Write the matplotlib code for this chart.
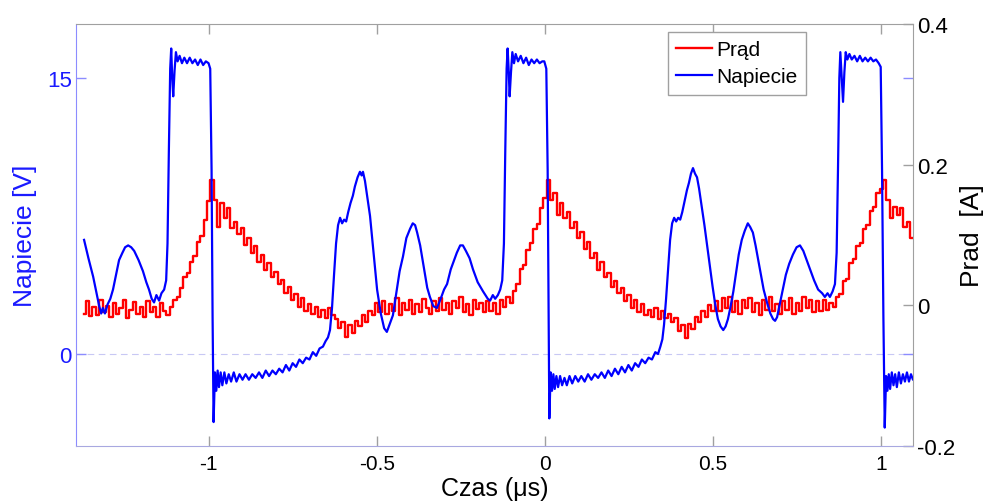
import numpy as np
import matplotlib
matplotlib.use("Agg")
import matplotlib.pyplot as plt

matplotlib.rcParams['font.family'] = ['Liberation Sans', 'DejaVu Sans']
matplotlib.rcParams['axes.unicode_minus'] = False

# Prad (current, A) sampled every 0.01 us starting at -1.37 us
PRAD_T0 = -1.37
PRAD_DT = 0.01
prad_i = [
    -0.012, 0.006, -0.015, -0.002, -0.014, 0.008, -0.010, -0.001, -0.016,
    0.003, -0.013, -0.004, 0.007, -0.018, -0.006, 0.005, -0.012, -0.002, -0.017,
    0.006, -0.010, -0.003, -0.016, 0.004, -0.008, -0.014, -0.002, 0.008, 0.012,
    0.024, 0.040, 0.046, 0.062, 0.070, 0.090, 0.098, 0.122, 0.148, 0.178,
    0.150, 0.112, 0.146, 0.124, 0.138, 0.110, 0.118, 0.102, 0.110, 0.086,
    0.096, 0.074, 0.084, 0.062, 0.072, 0.050, 0.060, 0.040, 0.048, 0.030,
    0.036, 0.018, 0.026, 0.008, 0.016, -0.002, 0.010, -0.008, 0.002, -0.012,
    -0.002, -0.016, -0.006, -0.018, -0.004, -0.014, -0.020, -0.032, -0.024, -0.045,
    -0.028, -0.040, -0.022, -0.030, -0.014, -0.024, -0.008, -0.014, 0.004, -0.010,
    0.006, -0.012, 0.002, -0.008, 0.010, -0.014, 0.004, -0.006, 0.008, -0.012,
    0.002, -0.010, 0.009, -0.004, -0.013, 0.006, -0.008, 0.011, -0.006, 0.003,
    -0.012, 0.006, -0.004, 0.012, -0.010, 0.002, -0.014, 0.008, -0.005, 0.004,
    -0.010, 0.006, -0.008, 0.004, -0.012, 0.008, -0.002, 0.012, 0.004, 0.020,
    0.030, 0.052, 0.058, 0.078, 0.088, 0.108, 0.116, 0.138, 0.152, 0.178,
    0.150, 0.160, 0.128, 0.146, 0.124, 0.132, 0.110, 0.118, 0.096, 0.104,
    0.080, 0.090, 0.068, 0.074, 0.050, 0.062, 0.040, 0.046, 0.026, 0.034,
    0.018, 0.024, 0.006, 0.014, -0.004, 0.008, -0.010, 0.002, -0.014, -0.006,
    -0.016, -0.004, -0.020, -0.008, -0.018, -0.012, -0.024, -0.018, -0.036, -0.028,
    -0.046, -0.026, -0.034, -0.016, -0.024, -0.008, -0.016, 0.000, -0.008, 0.006,
    -0.008, 0.010, -0.004, 0.012, -0.010, 0.006, -0.012, 0.008, -0.004, 0.010,
    -0.010, 0.004, -0.014, 0.008, -0.006, 0.012, -0.008, 0.002, -0.012, 0.006,
    -0.006, 0.010, -0.012, 0.004, -0.008, 0.012, -0.004, 0.008, -0.010, 0.006,
    -0.008, 0.008, -0.006, 0.004, -0.002, 0.012, 0.016, 0.034, 0.038, 0.060,
    0.066, 0.084, 0.088, 0.108, 0.114, 0.134, 0.140, 0.160, 0.166, 0.178,
    0.150, 0.124, 0.140, 0.128, 0.138, 0.112, 0.118, 0.096,
]
prad_t = PRAD_T0 + PRAD_DT * np.arange(len(prad_i))

# Napiecie (voltage, V)
napiecie_t = [
    -1.370, -1.357, -1.343, -1.333, -1.325, -1.319, -1.314, -1.308, -1.300, -1.292,
    -1.284, -1.275, -1.266, -1.256, -1.248, -1.239, -1.230, -1.221, -1.208, -1.195,
    -1.185, -1.177, -1.169, -1.162, -1.155, -1.147, -1.140, -1.132, -1.126, -1.122,
    -1.118, -1.114, -1.111, -1.108, -1.105, -1.101, -1.097, -1.092, -1.086, -1.079,
    -1.072, -1.064, -1.056, -1.048, -1.040, -1.032, -1.024, -1.016, -1.008, -1.000,
    -0.995, -0.991, -0.988, -0.985,
    -0.981, -0.977, -0.973, -0.969, -0.964, -0.959, -0.953, -0.947, -0.940, -0.933,
    -0.925, -0.917, -0.908, -0.899, -0.890, -0.880, -0.870, -0.860, -0.850, -0.840,
    -0.830, -0.820, -0.810, -0.800, -0.790, -0.780, -0.770, -0.760, -0.750, -0.740,
    -0.730, -0.720, -0.710, -0.700, -0.690, -0.680, -0.670, -0.660, -0.652, -0.645,
    -0.639,
    -0.633, -0.627, -0.621, -0.615, -0.609, -0.603, -0.597, -0.591, -0.585, -0.578,
    -0.571, -0.565, -0.557, -0.550, -0.545, -0.541, -0.535, -0.528, -0.520, -0.510,
    -0.499, -0.488, -0.478, -0.470, -0.462, -0.452, -0.442, -0.432, -0.422, -0.412,
    -0.401, -0.393, -0.386, -0.380, -0.371, -0.360, -0.350, -0.342, -0.332, -0.321,
    -0.310, -0.300, -0.291, -0.280, -0.270, -0.262, -0.252, -0.244, -0.235, -0.224,
    -0.214, -0.200, -0.184, -0.170, -0.163, -0.155, -0.148, -0.140, -0.133, -0.127,
    -0.122, -0.118, -0.114, -0.111, -0.108, -0.105, -0.101, -0.097, -0.092, -0.087,
    -0.080, -0.072, -0.064, -0.056, -0.048, -0.040, -0.032, -0.024, -0.016, -0.008,
    -0.002, 0.004, 0.008, 0.011, 0.013,
    0.017, 0.021, 0.025, 0.029, 0.034, 0.039, 0.045, 0.051, 0.058, 0.065,
    0.073, 0.081, 0.090, 0.099, 0.108, 0.118, 0.128, 0.138, 0.148, 0.158,
    0.168, 0.178, 0.188, 0.198, 0.208, 0.218, 0.228, 0.238, 0.248, 0.258,
    0.268, 0.278, 0.288, 0.298, 0.308, 0.318, 0.328, 0.336, 0.343, 0.349,
    0.354, 0.360, 0.366, 0.372, 0.378, 0.384, 0.390, 0.396, 0.402, 0.408,
    0.415, 0.422, 0.428, 0.434, 0.440, 0.446, 0.452, 0.458, 0.466, 0.474,
    0.482, 0.490, 0.498, 0.506, 0.514, 0.522, 0.530, 0.537, 0.544, 0.552,
    0.560, 0.568, 0.576, 0.585, 0.594, 0.603, 0.610, 0.618, 0.626, 0.634,
    0.642, 0.650, 0.660, 0.670, 0.678, 0.684, 0.690, 0.698, 0.707, 0.716,
    0.726, 0.737, 0.748, 0.758, 0.768, 0.778, 0.788, 0.800, 0.812, 0.824,
    0.832, 0.840, 0.847, 0.855, 0.862, 0.867, 0.871, 0.875, 0.878, 0.882,
    0.886, 0.890, 0.894, 0.899, 0.905, 0.912, 0.920, 0.928, 0.936, 0.944,
    0.952, 0.960, 0.968, 0.976, 0.984, 0.992, 0.998, 1.002, 1.006, 1.010,
    1.014, 1.018, 1.022, 1.026, 1.031, 1.036, 1.041, 1.046, 1.052, 1.058,
    1.064, 1.070, 1.076, 1.082, 1.088, 1.094, 1.100,
]
napiecie_v = [
    6.2, 5.2, 4.2, 3.3, 2.6, 2.2, 2.5, 2.2, 2.7, 3.0,
    3.5, 4.3, 5.1, 5.5, 5.8, 5.9, 5.8, 5.6, 5.1, 4.5,
    3.9, 3.5, 3.0, 2.8, 3.2, 2.9, 3.3, 3.5, 4.0, 6.0,
    11.0, 15.5, 16.6, 15.0, 14.0, 15.4, 16.4, 15.9, 16.2, 15.8,
    16.1, 15.8, 16.1, 15.8, 16.0, 15.7, 16.0, 15.7, 15.9, 15.8,
    15.5, 10.0, 2.0, -3.7,
    -1.0, -2.0, -0.9, -1.8, -1.0, -1.7, -1.0, -1.6, -1.1, -1.5,
    -1.0, -1.5, -1.1, -1.4, -1.1, -1.4, -1.1, -1.3, -1.0, -1.3,
    -0.9, -1.2, -0.9, -1.1, -0.8, -1.0, -0.6, -0.9, -0.5, -0.7,
    -0.3, -0.5, -0.2, -0.3, 0.1, -0.1, 0.3, 0.4, 0.7, 0.9,
    1.3,
    2.5, 4.3, 6.0, 7.0, 7.4, 7.1, 7.3, 7.2, 7.7, 8.2,
    8.6, 9.1, 9.6, 9.9, 9.7, 9.9, 9.4, 8.5, 7.5, 5.6,
    3.5, 2.2, 1.4, 1.2, 1.6, 2.1, 3.3, 4.5, 5.3, 6.3,
    6.8, 7.1, 7.0, 6.6, 5.9, 4.7, 3.6, 3.1, 2.6, 2.5,
    3.0, 3.5, 3.8, 4.6, 5.1, 5.5, 5.9, 5.9, 5.6, 5.2,
    4.6, 3.9, 3.4, 3.0, 2.9, 3.2, 3.0, 3.2, 3.5, 4.0,
    6.0, 11.0, 15.5, 16.6, 15.5, 14.0, 15.3, 16.4, 15.8, 16.3,
    15.9, 16.2, 15.8, 16.1, 15.7, 16.0, 15.8, 16.0, 15.8, 15.9,
    15.9, 15.5, 10.0, 2.0, -3.5,
    -1.0, -2.0, -1.1, -1.9, -1.2, -1.8, -1.2, -1.7, -1.3, -1.7,
    -1.2, -1.6, -1.2, -1.5, -1.2, -1.5, -1.1, -1.4, -1.1, -1.3,
    -1.0, -1.3, -0.9, -1.2, -0.8, -1.1, -0.7, -1.0, -0.6, -0.9,
    -0.5, -0.7, -0.3, -0.5, -0.2, -0.3, 0.1, 0.0, 0.4, 0.8,
    1.6, 3.0, 4.6, 6.2, 7.1, 7.4, 7.2, 7.4, 7.3, 7.7,
    8.3, 8.9, 9.3, 9.8, 10.1, 9.8, 9.6, 9.0, 8.0, 7.0,
    5.9, 4.8, 3.7, 2.7, 1.9, 1.5, 1.3, 1.5, 1.9, 2.6,
    3.4, 4.4, 5.4, 6.2, 6.7, 7.1, 6.9, 6.6, 5.9, 5.1,
    4.3, 3.5, 2.8, 2.2, 1.9, 1.8, 2.0, 2.7, 3.5, 4.3,
    4.9, 5.4, 5.8, 5.9, 5.6, 5.1, 4.6, 4.0, 3.5, 3.3,
    3.1, 3.3, 3.1, 3.4, 3.8, 5.5, 10.0, 15.0, 16.4, 15.0,
    13.7, 15.3, 16.4, 16.0, 16.3, 16.0, 16.2, 15.9, 16.2, 15.9,
    16.1, 15.9, 16.1, 15.9, 16.0, 15.8, 15.6, 10.0, 2.0, -4.0,
    -1.2, -2.0, -1.1, -1.9, -1.0, -1.7, -1.1, -1.8, -1.0, -1.6,
    -1.1, -1.5, -1.0, -1.5, -1.1, -1.4, -1.2,
]

x_ticks = [-1, -0.5, 0, 0.5, 1]
x_labels = ['-1', '-0.5', '0', '0.5', '1']
v_ticks = [0, 15]
i_ticks = [-0.2, 0, 0.2, 0.4]
i_labels = ['-0.2', '0', '0.2', '0.4']

BLUE = '#0000ff'
RED = '#ff0000'
SPINE_BLUE = '#8c8cff'
GRAY = '#a0a0a0'

fig = plt.figure(figsize=(9.88, 5.02), dpi=100)
ax = fig.add_axes([76 / 988, 1 - 447 / 502, 837 / 988, 422 / 502])
ax2 = ax.twinx()
ax.set_zorder(ax2.get_zorder() + 1)
ax.patch.set_visible(False)

line_i, = ax2.plot(prad_t, prad_i, color=RED, lw=1.7, drawstyle='steps-mid')
line_v, = ax.plot(napiecie_t, napiecie_v, color=BLUE, lw=1.6)
ax.axhline(0, color='#c8c8f4', lw=0.8, ls=(0, (6, 4)), zorder=0)

ax.set_xlim(-1.394, 1.094)
ax.set_ylim(-5.0, 17.93)
ax2.set_ylim(-0.2, 0.4)

ax.set_xticks(x_ticks)
ax.set_xticklabels(x_labels)
ax.set_yticks(v_ticks)
ax2.set_yticks(i_ticks)
ax2.set_yticklabels(i_labels)

for s in ax2.spines.values():
    s.set_visible(False)
ax.spines['left'].set_color(SPINE_BLUE)
ax.spines['bottom'].set_color('#a8a8e0')
ax.spines['top'].set_color(GRAY)
ax.spines['right'].set_color(GRAY)

ax.tick_params(axis='y', direction='in', length=7, width=1, color=SPINE_BLUE,
               labelcolor='#1a1aff', labelsize=16, pad=3, left=True, right=True)
ax.tick_params(axis='x', direction='in', length=7, width=1, color=GRAY,
               labelsize=15, pad=6, top=True)
ax2.tick_params(axis='y', direction='in', length=7, width=1, color=GRAY,
                labelcolor='black', labelsize=16, pad=3)

ax.set_ylabel('Napiecie [V]', color='#1a1aff', fontsize=19)
ax.yaxis.set_label_coords(-0.047, 0.5)
ax2.set_ylabel('Prad  [A]', color='black', fontsize=19)
ax2.yaxis.set_label_coords(1.056, 0.5)
ax.set_xlabel('Czas (μs)', fontsize=18)
ax.xaxis.set_label_coords(0.5, -0.071)

leg = ax.legend([line_i, line_v], ['Prąd', 'Napiecie'], loc='upper left',
                bbox_to_anchor=(0.707, 0.981), borderaxespad=0, fontsize=15,
                handlelength=1.7, handletextpad=0.25, labelspacing=0.38,
                borderpad=0.4, fancybox=False, framealpha=1)
leg.get_frame().set_edgecolor(GRAY)
leg.get_frame().set_linewidth(1)

fig.savefig('out.png', dpi=100)
